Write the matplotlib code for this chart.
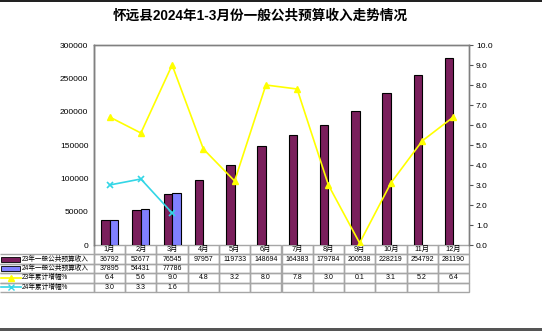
import matplotlib
matplotlib.use('Agg')
import matplotlib.pyplot as plt
import numpy as np
from matplotlib.patches import Rectangle
from matplotlib.lines import Line2D

plt.rcParams['font.family'] = ['Liberation Sans', 'Noto Sans CJK SC']

MONTHS = ['1月', '2月', '3月', '4月', '5月', '6月',
          '7月', '8月', '9月', '10月', '11月', '12月']
REV_23 = [36792, 52677, 76545, 97957, 119733, 148694,
          164383, 179784, 200538, 228219, 254792, 281190]
REV_24 = [37895, 54431, 77786]
GROWTH_23 = [6.4, 5.6, 9.0, 4.8, 3.2, 8.0, 7.8, 3.0, 0.1, 3.1, 5.2, 6.4]
GROWTH_24 = [3.0, 3.3, 1.6]
ROW_LABELS = ['23年一般公共预算收入', '24年一般公共预算收入',
              '23年累计增幅%', '24年累计增幅%']
TITLE = '怀远县2024年1-3月份一般公共预算收入走势情况'

C_23 = '#7a1f5c'
C_24 = '#8080ff'
C_G23 = '#ffff00'
C_G24 = '#33d6e6'
GRID_C = '#a6a6a6'

W, H = 542, 331
fig = plt.figure(figsize=(W / 100, H / 100), dpi=100)
ax = fig.add_axes([94 / W, 1 - 245 / H, 375 / W, 200 / H])
ax2 = ax.twinx()

x = np.arange(len(MONTHS))
bw = 0.27
ax.bar(x - bw / 2, REV_23, bw, color=C_23, edgecolor='black', linewidth=0.8, zorder=2)
ax.bar(x[:len(REV_24)] + bw / 2, REV_24, bw, color=C_24, edgecolor='black', linewidth=0.8, zorder=2)

ax2.plot(x, GROWTH_23, color=C_G23, marker='^', markersize=5, linewidth=1.2)
ax2.plot(x[:len(GROWTH_24)], GROWTH_24, color=C_G24, marker='x', markersize=4.5,
         markeredgewidth=1.2, linewidth=1.2)

ax.set_xlim(-0.5, 11.5)
ax.set_ylim(0, 300000)
ax.set_yticks(np.arange(0, 300001, 50000))
ax.set_xticks([])
ax.tick_params(axis='y', labelsize=6, length=0, pad=4)
ax2.set_ylim(0, 10)
ax2.set_yticks(np.arange(0, 10.01, 1))
ax2.set_yticklabels(['%.1f' % v for v in np.arange(0, 10.01, 1)])
ax2.tick_params(axis='y', labelsize=6, length=3, width=0.8, color='#555555', pad=2)

for a in (ax, ax2):
    for side in ('top', 'right', 'left'):
        a.spines[side].set_color('#808080')
        a.spines[side].set_linewidth(1)
    a.spines['bottom'].set_visible(False)
ax.spines['left'].set_color('#404040')

# data table under the axes
cells = [[''] + MONTHS]
cells.append([ROW_LABELS[0]] + [str(v) for v in REV_23])
cells.append([ROW_LABELS[1]] + [str(v) for v in REV_24] + [''] * (12 - len(REV_24)))
cells.append([ROW_LABELS[2]] + ['%.1f' % v for v in GROWTH_23])
cells.append([ROW_LABELS[3]] + ['%.1f' % v for v in GROWTH_24] + [''] * (12 - len(GROWTH_24)))

left = -94 / 375
col_w = [94 / 469] + [31.25 / 469] * 12
tbl = ax.table(cellText=cells, cellLoc='center', colWidths=col_w,
               bbox=[left, -47 / 200, 1 - left, 47 / 200])
tbl.auto_set_font_size(False)
tbl.set_fontsize(5)
for (r, c), cell in tbl.get_celld().items():
    cell.set_edgecolor(GRID_C)
    cell.set_linewidth(1)
    cell.set_facecolor('none')
    if c == 0:
        if r == 0:
            cell.visible_edges = 'R'
        else:
            cell.visible_edges = 'TBR'
            cell.set_text_props(ha='left')
            cell.PAD = 22 / 94
            cell.get_text().set_fontsize(4.8)
    if r == 0:
        cell.get_text().set_fontsize(5.3)

# legend keys in the label column
row_h = 47 / 5
for i in range(4):
    yc = 1 - (245 + row_h * (i + 1.5)) / H
    if i < 2:
        fc = C_23 if i == 0 else C_24
        fig.patches.append(Rectangle((1 / W, yc - 2.5 / H), 19 / W, 5 / H,
                                     facecolor=fc, edgecolor='black', linewidth=0.6,
                                     transform=fig.transFigure))
    else:
        lc = C_G23 if i == 2 else C_G24
        mk = '^' if i == 2 else 'x'
        fig.lines.append(Line2D([1 / W, 21 / W], [yc, yc], color=lc, linewidth=1.2,
                                transform=fig.transFigure))
        fig.lines.append(Line2D([11 / W], [yc], color=lc, marker=mk, markersize=4,
                                transform=fig.transFigure))

fig.text(260 / W, 1 - 16 / H, TITLE, ha='center', va='center',
         fontsize=9.8, fontweight='bold')

# frame lines at top and bottom
fig.patches.append(Rectangle((0, 1 - 1.5 / H), 1, 1.5 / H, facecolor='#222222',
                             edgecolor='none', transform=fig.transFigure))
fig.patches.append(Rectangle((0, 0), 1, 3 / H, facecolor='#555555',
                             edgecolor='none', transform=fig.transFigure))

fig.savefig('out.png', dpi=100)
